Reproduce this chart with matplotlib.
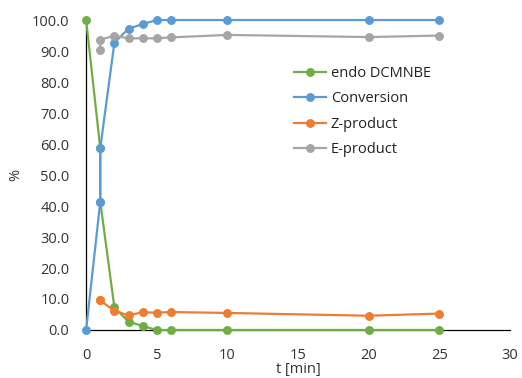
import numpy as np
import matplotlib.pyplot as plt
from matplotlib.ticker import FormatStrFormatter

t = [0, 1, 1, 2, 3, 4, 5, 6, 10, 20, 25]
endo = [100, 58.6, 41.4, 7.3, 2.7, 1.3, 0, 0, 0, 0, 0]
conversion = [0, 41.4, 58.6, 92.7, 97.2, 98.7, 100, 100, 100, 100, 100]
z_product = [np.nan, 9.6, 9.6, 6.1, 4.8, 5.7, 5.6, 5.8, 5.5, 4.6, 5.3]
e_product = [np.nan, 90.3, 93.7, 94.9, 94.1, 94.1, 94.1, 94.4, 95.2, 94.5, 95.0]

series = [
    ("endo DCMNBE", endo, "#70AD47"),
    ("Conversion", conversion, "#5B9BD5"),
    ("Z-product", z_product, "#ED7D31"),
    ("E-product", e_product, "#A5A5A5"),
]

plt.rcParams['font.family'] = ['Open Sans', 'DejaVu Sans']

fig, ax = plt.subplots(figsize=(5.22, 3.78), dpi=100)
fig.subplots_adjust(left=0.165, right=0.977, top=0.947, bottom=0.127)

for name, vals, col in series:
    ax.plot(t, vals, color=col, linewidth=1.6, marker='o', markersize=5.4,
            label=name, clip_on=False, zorder=3)

ax.set_xlim(0, 30)
ax.set_ylim(0, 100)
ax.set_xticks(range(0, 31, 5))
ax.set_yticks(range(0, 101, 10))
ax.yaxis.set_major_formatter(FormatStrFormatter('%.1f'))
ax.tick_params(length=0, labelsize=10.5, colors='#333333')
ax.tick_params(axis='x', pad=13)
ax.tick_params(axis='y', pad=12)

for s in ['top', 'right']:
    ax.spines[s].set_visible(False)
for s in ['left', 'bottom']:
    ax.spines[s].set_color('black')
    ax.spines[s].set_linewidth(0.9)

ax.set_xlabel('t [min]', fontsize=10.5, color='#333333', labelpad=-1)
ax.set_ylabel('%', fontsize=10.5, color='#333333', labelpad=6)

ax.legend(loc='upper left', bbox_to_anchor=(0.46, 0.895), frameon=False,
          fontsize=10.5, handlelength=2.2, handletextpad=0.3,
          labelspacing=0.72, labelcolor='#222222')

fig.savefig('out.png', dpi=100)
